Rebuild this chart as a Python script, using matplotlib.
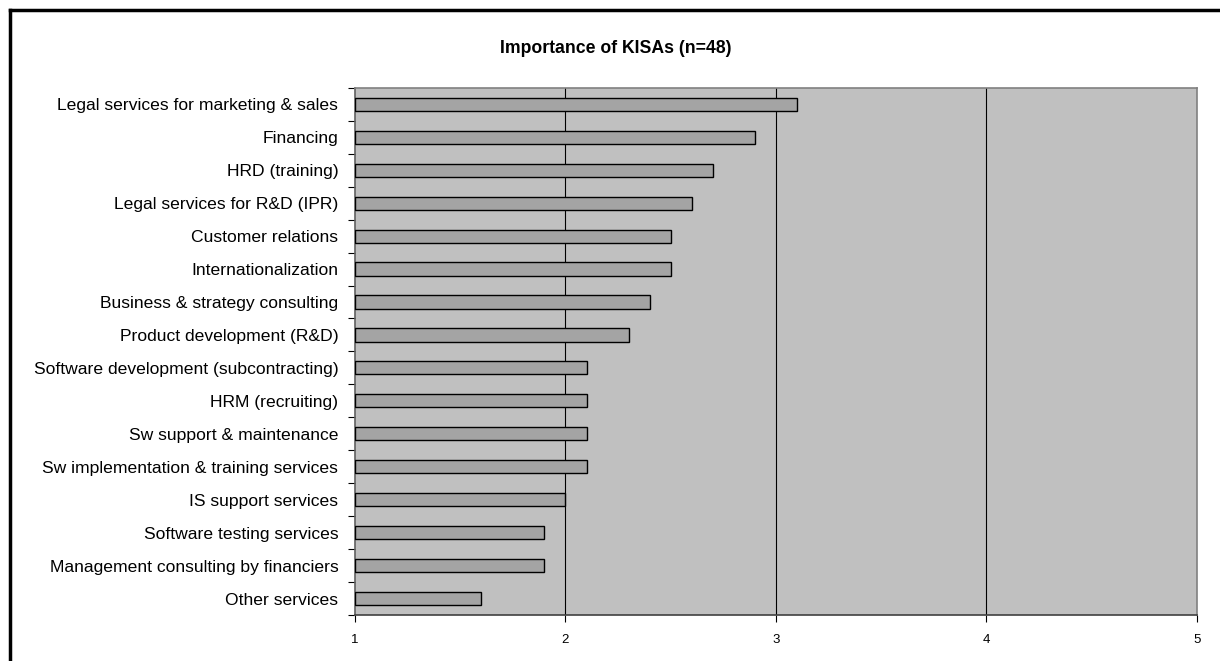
import matplotlib
matplotlib.use("Agg")
import matplotlib.pyplot as plt
from matplotlib.lines import Line2D

plt.rcParams['font.family'] = ['Liberation Sans', 'DejaVu Sans']

# Mean importance score per service type (1-5 scale)
services = [
    "Legal services for marketing & sales",
    "Financing",
    "HRD (training)",
    "Legal services for R&D (IPR)",
    "Customer relations",
    "Internationalization",
    "Business & strategy consulting",
    "Product development (R&D)",
    "Software development (subcontracting)",
    "HRM (recruiting)",
    "Sw support & maintenance",
    "Sw implementation & training services",
    "IS support services",
    "Software testing services",
    "Management consulting by financiers",
    "Other services",
]
scores = [3.1, 2.9, 2.7, 2.6, 2.5, 2.5, 2.4, 2.3, 2.1, 2.1, 2.1, 2.1, 2.0, 1.9, 1.9, 1.6]
x_ticks = [1, 2, 3, 4, 5]

fig = plt.figure(figsize=(12.2, 6.61), dpi=100)
ax = fig.add_axes([0.291, 0.0696, 0.690, 0.7975])

ypos = list(range(len(services)))
ax.barh(ypos, [s - 1 for s in scores], left=1, height=0.4,
        color='#a4a4a4', edgecolor='black', linewidth=1.0, zorder=3)

ax.set_facecolor('#c0c0c0')
ax.set_xlim(1, 5)
ax.set_ylim(len(services) - 0.5, -0.5)

ax.set_xticks(x_ticks)
ax.set_xticklabels([str(t) for t in x_ticks], fontsize=9.5)
ax.tick_params(axis='x', direction='out', length=5, width=0.8, pad=9)

# category labels between boundary ticks
ax.set_yticks(ypos)
ax.set_yticklabels(services, fontsize=12.6)
ax.tick_params(axis='y', which='major', length=0, pad=12)
ax.set_yticks([i - 0.5 for i in range(len(services) + 1)], minor=True)
ax.tick_params(axis='y', which='minor', direction='out', length=5, width=0.8)

for v in x_ticks[1:-1]:
    ax.axvline(v, color='black', linewidth=0.8, zorder=1)

ax.spines['top'].set_color('#808080')
ax.spines['right'].set_color('#808080')
ax.spines['left'].set_color('#606060')
ax.spines['bottom'].set_color('#404040')
for sp in ax.spines.values():
    sp.set_linewidth(1.2)

fig.text(0.505, 0.926, "Importance of KISAs (n=48)", ha='center', va='center',
         fontsize=12.7, fontweight='bold')

# outer frame (left and top edges)
fig.add_artist(Line2D([0.0082, 0.0082], [0.0, 0.985], transform=fig.transFigure,
                      color='black', linewidth=2.5))
fig.add_artist(Line2D([0.0082, 1.0], [0.985, 0.985], transform=fig.transFigure,
                      color='black', linewidth=2.5))

fig.savefig("out.png", dpi=100)
